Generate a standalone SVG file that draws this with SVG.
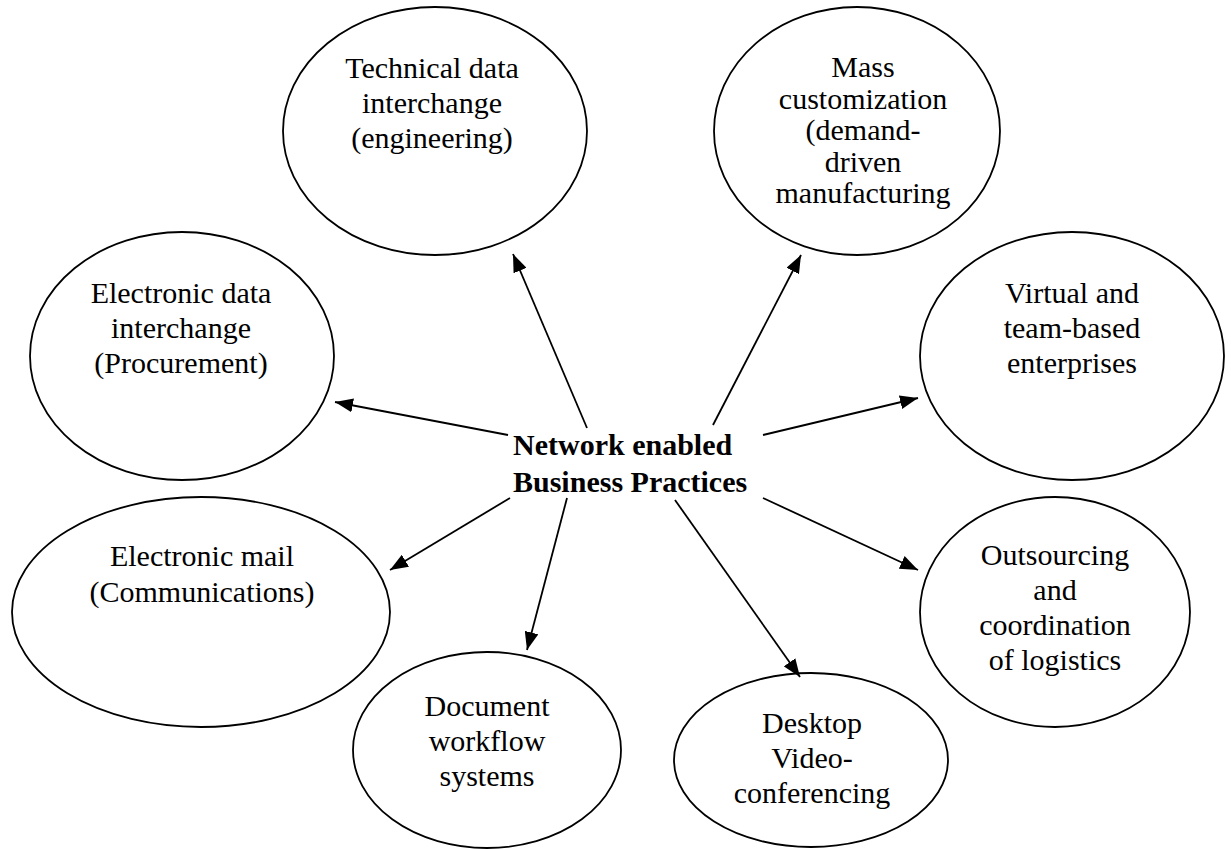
<svg xmlns="http://www.w3.org/2000/svg" width="1231" height="849" viewBox="0 0 1231 849">
<style>
.node ellipse{fill:#fff;stroke:#000;stroke-width:1.8}
.node text{font-family:"Liberation Serif","Times New Roman",serif;font-size:30px;fill:#000;text-anchor:middle}
.center text{font-family:"Liberation Serif","Times New Roman",serif;font-size:30px;font-weight:bold;fill:#000}
.conn line{stroke:#000;stroke-width:1.8;marker-end:url(#arrow)}
</style>
<defs>
<marker id="arrow" markerUnits="userSpaceOnUse" markerWidth="20" markerHeight="14" refX="18" refY="7" orient="auto">
<path d="M0,0 L18,7 L0,14 Z" fill="#000"/>
</marker>
</defs>
<rect width="1231" height="849" fill="#fff"/>
<g id="n-technical" class="node">
<ellipse cx="435" cy="131" rx="152" ry="124"/>
<text x="432" y="78">Technical data</text>
<text x="432" y="113">interchange</text>
<text x="432" y="148">(engineering)</text>
</g>
<g id="n-mass" class="node">
<ellipse cx="857" cy="131" rx="143" ry="124"/>
<text x="863" y="77">Mass</text>
<text x="863" y="108.5">customization</text>
<text x="863" y="140">(demand-</text>
<text x="863" y="171.5">driven</text>
<text x="863" y="203">manufacturing</text>
</g>
<g id="n-edi" class="node">
<ellipse cx="182" cy="356" rx="152" ry="124"/>
<text x="181" y="303">Electronic data</text>
<text x="181" y="338">interchange</text>
<text x="181" y="373">(Procurement)</text>
</g>
<g id="n-virtual" class="node">
<ellipse cx="1072" cy="356" rx="152" ry="124"/>
<text x="1072" y="303">Virtual and</text>
<text x="1072" y="338">team-based</text>
<text x="1072" y="373">enterprises</text>
</g>
<g id="n-email" class="node">
<ellipse cx="201" cy="612" rx="189" ry="115"/>
<text x="202" y="566">Electronic mail</text>
<text x="202" y="602">(Communications)</text>
</g>
<g id="n-outsourcing" class="node">
<ellipse cx="1055" cy="612" rx="135" ry="115"/>
<text x="1055" y="565">Outsourcing</text>
<text x="1055" y="600">and</text>
<text x="1055" y="635">coordination</text>
<text x="1055" y="670">of logistics</text>
</g>
<g id="n-document" class="node">
<ellipse cx="487" cy="750" rx="134" ry="98"/>
<text x="487" y="716">Document</text>
<text x="487" y="751">workflow</text>
<text x="487" y="786">systems</text>
</g>
<g id="n-desktop" class="node">
<ellipse cx="811" cy="760" rx="137" ry="87"/>
<text x="812" y="733">Desktop</text>
<text x="812" y="768">Video-</text>
<text x="812" y="803">conferencing</text>
</g>
<g id="n-center" class="center">
<text x="513" y="455">Network enabled</text>
<text x="513" y="492">Business Practices</text>
</g>
<g id="connectors" class="conn">
<line x1="587" y1="428" x2="513" y2="254"/>
<line x1="713" y1="425" x2="801" y2="255"/>
<line x1="508" y1="435" x2="335" y2="402"/>
<line x1="763" y1="435" x2="918" y2="398"/>
<line x1="510" y1="498" x2="390" y2="570"/>
<line x1="567" y1="498" x2="527" y2="650"/>
<line x1="675" y1="500" x2="800" y2="677"/>
<line x1="763" y1="498" x2="918" y2="570"/>
</g>
</svg>
